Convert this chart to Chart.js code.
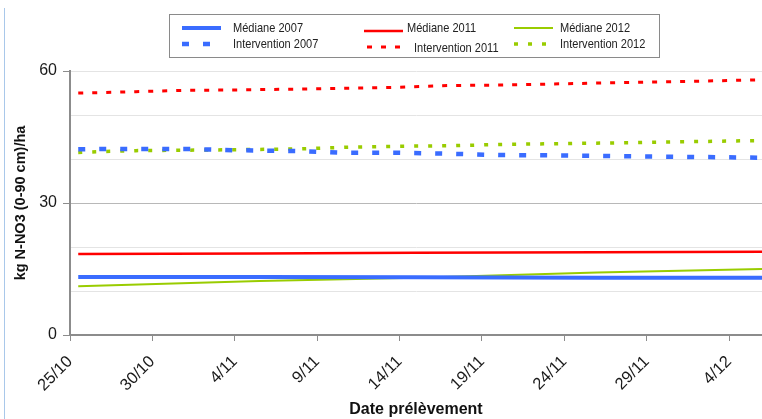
<!DOCTYPE html>
<html>
<head>
<meta charset="utf-8">
<script src="https://cdn.jsdelivr.net/npm/chart.js@4.4.1/dist/chart.umd.min.js"></script>
<style>
  html, body { margin: 0; padding: 0; background: #fff; }
  #wrap { position: relative; width: 762px; height: 419px; }
  #frame { position: absolute; left: 4px; top: 8px; bottom: 0; width: 1px; background: #a9c8ea; }
</style>
</head>
<body>
<div id="wrap">
  <div id="frame"></div>
  <canvas id="chart"></canvas>
</div>
<script>
// jours depuis le 25/10
const tickLabels = ['25/10', '30/10', '4/11', '9/11', '14/11', '19/11', '24/11', '29/11', '4/12'];

const medianeDays = [0.5, 11.5, 21, 32, 42];
const mediane2007 = [13.2, 13.2, 13.1, 13.0, 13.0];
const mediane2011 = [18.4, 18.5, 18.7, 18.8, 18.9];
const mediane2012 = [11.1, 12.3, 13.0, 14.2, 15.0];

const interDays = [0.5, 2, 4, 7, 10, 14, 17, 20, 23, 26, 30, 34, 37, 42];
const inter2007 = [42.2, 42.3, 42.3, 42.3, 42.0, 41.8, 41.4, 41.4, 41.2, 40.9, 40.8, 40.6, 40.5, 40.3];
const inter2011 = [55.0, 55.1, 55.3, 55.6, 55.7, 55.9, 56.1, 56.3, 56.7, 56.8, 57.1, 57.4, 57.6, 58.0];
const inter2012 = [41.5, 41.7, 41.9, 42.0, 42.1, 42.3, 42.7, 42.9, 43.0, 43.3, 43.5, 43.7, 43.9, 44.2];

const xy = (days, vals) => days.map((d, i) => ({ x: d, y: vals[i] }));

const BLUE = '#3a6cff', RED = '#ff0000', GREEN = '#99cc00';

function serie(label, days, vals, color, width, dash) {
  return {
    label,
    data: xy(days, vals),
    borderColor: color,
    backgroundColor: color,
    borderWidth: width,
    borderDash: dash,
    borderCapStyle: 'butt',
    pointRadius: 0,
    tension: 0,
    fill: false
  };
}

// légende dessinée sur le canevas, en grille 3 x 2
const legendPos = [
  { x1: 182, x2: 221, ly: 28, tx: 233, ty: 28 },
  { x1: 364, x2: 403, ly: 31, tx: 407, ty: 28 },
  { x1: 514, x2: 553, ly: 28, tx: 560, ty: 28 },
  { x1: 182, x2: 221, ly: 44, tx: 233, ty: 44 },
  { x1: 367, x2: 405, ly: 47, tx: 414, ty: 48 },
  { x1: 514, x2: 555, ly: 44, tx: 560, ty: 44 }
];

const gridLegend = {
  id: 'gridLegend',
  afterDraw(chart) {
    const ctx = chart.ctx;
    ctx.save();
    ctx.strokeStyle = '#8a8a8a';
    ctx.lineWidth = 1;
    ctx.strokeRect(169.5, 14.5, 490, 43);
    chart.data.datasets.forEach((ds, i) => {
      const p = legendPos[i];
      ctx.beginPath();
      ctx.strokeStyle = ds.borderColor;
      ctx.lineWidth = ds.borderWidth;
      ctx.lineCap = 'butt';
      ctx.setLineDash(ds.borderDash || []);
      ctx.moveTo(p.x1, p.ly);
      ctx.lineTo(p.x2, p.ly);
      ctx.stroke();
      ctx.setLineDash([]);
      ctx.save();
      ctx.translate(p.tx, p.ty);
      ctx.scale(0.85, 1);
      ctx.fillStyle = '#222';
      ctx.font = '13px "Liberation Sans", Arial, sans-serif';
      ctx.textBaseline = 'middle';
      ctx.fillText(ds.label, 0, 0);
      ctx.restore();
    });
    ctx.restore();
  }
};

new Chart(document.getElementById('chart'), {
  type: 'line',
  data: {
    datasets: [
      serie('Médiane 2007', medianeDays, mediane2007, BLUE, 4, []),
      serie('Médiane 2011', medianeDays, mediane2011, RED, 2.5, []),
      serie('Médiane 2012', medianeDays, mediane2012, GREEN, 2, []),
      serie('Intervention 2007', interDays, inter2007, BLUE, 4.5, [7, 14]),
      serie('Intervention 2011', interDays, inter2011, RED, 3, [5, 9]),
      serie('Intervention 2012', interDays, inter2012, GREEN, 3.5, [4, 10])
    ]
  },
  options: {
    animation: false,
    responsive: true,
    maintainAspectRatio: false,
    layout: { padding: { top: 71, left: 4, right: 0, bottom: 0 } },
    plugins: {
      legend: { display: false },
      tooltip: { enabled: false }
    },
    scales: {
      x: {
        type: 'linear',
        min: 0,
        max: 42,
        afterFit: s => { s.height = 84; },
        grid: {
          drawOnChartArea: false,
          drawTicks: true,
          tickLength: 6,
          color: '#8c8c8c'
        },
        border: { color: '#8c8c8c', width: 2 },
        ticks: {
          stepSize: 5,
          includeBounds: false,
          autoSkip: false,
          minRotation: 45,
          maxRotation: 45,
          padding: 11,
          color: '#1a1a1a',
          font: { family: '"Liberation Sans", Arial, sans-serif', size: 16.5 },
          callback: v => (v % 5 === 0 ? tickLabels[v / 5] : '')
        },
        title: {
          display: true,
          text: 'Date prélèvement',
          color: '#111',
          padding: { top: 0, bottom: 0 },
          font: { family: '"Liberation Sans", Arial, sans-serif', size: 16, weight: 'bold' }
        }
      },
      y: {
        min: 0,
        max: 60,
        afterFit: s => { s.width = 66; },
        grid: {
          color: c => (c.tick && c.tick.value === 30 ? '#b8b8b8' : '#e4e4e4'),
          tickColor: c => (c.tick && c.tick.value % 30 === 0 ? '#8c8c8c' : 'rgba(0,0,0,0)'),
          tickLength: 7
        },
        border: { color: '#8c8c8c', width: 2 },
        ticks: {
          stepSize: 10,
          padding: 6,
          color: '#1a1a1a',
          font: { family: '"Liberation Sans", Arial, sans-serif', size: 16 },
          callback: v => (v % 30 === 0 ? String(v) : '')
        },
        title: {
          display: true,
          text: 'kg N-NO3 (0-90 cm)/ha',
          color: '#111',
          padding: { top: 8, bottom: 4 },
          font: { family: '"Liberation Sans", Arial, sans-serif', size: 14.5, weight: 'bold' }
        }
      }
    }
  },
  plugins: [gridLegend]
});
</script>
</body>
</html>
